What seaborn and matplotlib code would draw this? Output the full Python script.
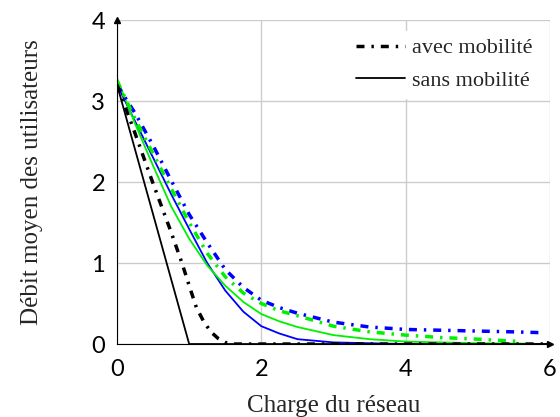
import matplotlib
matplotlib.use("Agg")
import matplotlib.pyplot as plt
import seaborn as sns

# -----------------------------------
# DATA
# -----------------------------------

x_black_sans = [0, 1.0, 6.0]
y_black_sans = [3.2, 0.0, 0.0]

x_black_avec = [0, 0.25, 0.5, 0.75, 0.9, 1.0, 1.1, 1.2, 1.3, 1.4, 1.5, 1.6, 6.0]
y_black_avec = [3.2, 2.6, 1.98, 1.38, 1.0, 0.72, 0.45, 0.28, 0.15, 0.07, 0.02, 0.0, 0.0]

x_blue_sans = [0, 0.25, 0.5, 0.75, 1.0, 1.25, 1.5, 1.75, 2.0, 2.25, 2.5, 3.0, 3.5, 4.0, 6.0]
y_blue_sans = [3.2, 2.75, 2.3, 1.85, 1.42, 1.0, 0.66, 0.4, 0.22, 0.13, 0.06, 0.02, 0.01, 0.0, 0.0]

x_blue_avec = [0, 0.25, 0.5, 0.75, 1.0, 1.25, 1.5, 1.75, 2.0, 2.25, 2.5, 3.0, 3.5, 4.0, 4.5, 5.0, 5.5, 5.9]
y_blue_avec = [3.2, 2.85, 2.45, 2.02, 1.6, 1.25, 0.92, 0.7, 0.54, 0.45, 0.38, 0.27, 0.21, 0.18, 0.17, 0.16, 0.15, 0.14]

x_green_sans = [0, 0.25, 0.5, 0.75, 1.0, 1.25, 1.5, 1.75, 2.0, 2.25, 2.5, 3.0, 3.5, 4.0, 4.5, 5.0, 5.7]
y_green_sans = [3.28, 2.72, 2.2, 1.7, 1.3, 0.97, 0.72, 0.52, 0.37, 0.28, 0.21, 0.11, 0.06, 0.03, 0.02, 0.01, 0.005]

x_green_avec = [0, 0.25, 0.5, 0.75, 1.0, 1.25, 1.5, 1.75, 2.0, 2.25, 2.5, 3.0, 3.5, 4.0, 4.5, 5.0, 5.6]
y_green_avec = [3.25, 2.78, 2.35, 1.92, 1.5, 1.12, 0.83, 0.63, 0.5, 0.41, 0.35, 0.22, 0.15, 0.11, 0.08, 0.06, 0.03]

x_ticks = [0, 2, 4, 6]
y_ticks = [0, 1, 2, 3, 4]

# -----------------------------------
# STYLE
# -----------------------------------

sns.set_style("white")
plt.rcParams["font.family"] = ["Lato", "DejaVu Sans"]

DASHDOT = (0, (2.3, 2.0, 0.7, 2.0))
SERIF = ["Liberation Serif", "DejaVu Serif"]
BLUE = "#0000ff"
GREEN = "#00f000"

fig = plt.figure(figsize=(5.6, 4.17), dpi=100)
ax = fig.add_axes([0.209, 0.175, 0.773, 0.777])

# -----------------------------------
# CURVES
# -----------------------------------

sns.lineplot(x=x_blue_sans, y=y_blue_sans, color=BLUE, lw=1.3, ax=ax, sort=False)
sns.lineplot(x=x_green_sans, y=y_green_sans, color=GREEN, lw=1.3, ax=ax, sort=False)
sns.lineplot(x=x_blue_avec, y=y_blue_avec, color=BLUE, lw=2.5, ax=ax, sort=False,
             linestyle=DASHDOT)
sns.lineplot(x=x_green_avec, y=y_green_avec, color=GREEN, lw=2.5, ax=ax, sort=False,
             linestyle=DASHDOT)
sns.lineplot(x=x_black_sans, y=y_black_sans, color="black", lw=1.3, ax=ax, sort=False,
             label="sans mobilité")
sns.lineplot(x=x_black_avec, y=y_black_avec, color="black", lw=2.5, ax=ax, sort=False,
             linestyle=DASHDOT, label="avec mobilité")

# -----------------------------------
# AXES
# -----------------------------------

ax.set_xlim(0, 6)
ax.set_ylim(0, 4)
ax.set_xticks(x_ticks)
ax.set_yticks(y_ticks)
ax.tick_params(labelsize=17, length=5, width=0.8, direction="inout", colors="#444444",
               labelcolor="black", pad=6)
ax.tick_params(axis="x", pad=8)
ax.grid(True, color="#cccccc", lw=1.0)

for side in ["top", "right"]:
    ax.spines[side].set_visible(False)
for side in ["left", "bottom"]:
    ax.spines[side].set_color("black")
    ax.spines[side].set_linewidth(0.8)

ax.plot(1, 0, ">", color="black", ms=5, transform=ax.transAxes, clip_on=False)
ax.plot(0, 1, "^", color="black", ms=5, transform=ax.transAxes, clip_on=False)

ax.set_xlabel("Charge du réseau", fontsize=18, family=SERIF, labelpad=11)
ax.set_ylabel("Débit moyen des utilisateurs", fontsize=18, family=SERIF, labelpad=35)

# legend: dash-dot first, then solid
handles, labels = ax.get_legend_handles_labels()
order = [labels.index("avec mobilité"), labels.index("sans mobilité")]
ax.legend([handles[i] for i in order], [labels[i] for i in order],
          loc="upper right", frameon=True, edgecolor="white", framealpha=1.0,
          fancybox=False, prop={"family": SERIF, "size": 16},
          handlelength=2.2, handletextpad=0.3, borderaxespad=0.5, borderpad=0.3,
          labelspacing=0.55)

plt.savefig("out.png", dpi=100)
